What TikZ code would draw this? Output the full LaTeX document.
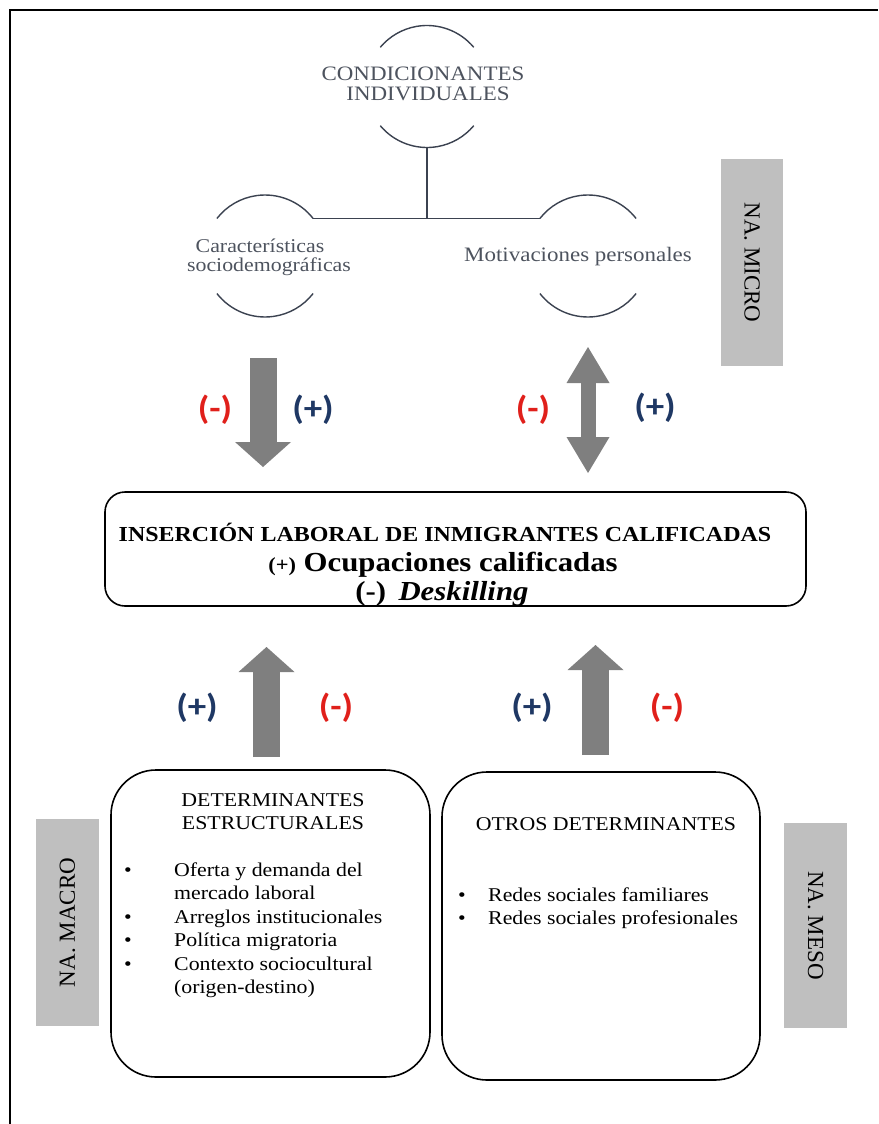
\documentclass[tikz,border=0pt]{standalone}
\usepackage{fontspec}
\setmainfont{Liberation Serif}[FakeStretch=1.12]
\newfontfamily\uprightserif{Liberation Serif}
\newfontfamily\signfont{Carlito}[FakeStretch=1.12]
\usetikzlibrary{arrows.meta,calc}

\definecolor{topgray}{HTML}{4D535E}
\definecolor{arcslate}{HTML}{3B4250}
\definecolor{arrowgray}{HTML}{7F7F7F}
\definecolor{levelgray}{HTML}{BFBFBF}
\definecolor{signred}{HTML}{E0201B}
\definecolor{signnavy}{HTML}{1F3864}

\tikzset{
  ring/.style={circle, minimum size=122pt, inner sep=0pt, outer sep=0pt},
  arcline/.style={draw=arcslate, line width=1.4pt},
  toptext/.style={text=topgray, inner sep=0pt, anchor=base},
  levelbox/.style={fill=levelgray, inner sep=0pt, outer sep=0pt,
    font=\uprightserif\fontsize{23}{26}\selectfont},
  roundbox/.style={draw=black, line width=1.6pt, inner sep=0pt, outer sep=0pt},
  signlabel/.style={inner sep=0pt, font=\signfont\bfseries\fontsize{33}{36}\selectfont},
  plussign/.style={signlabel, text=signnavy},
  minussign/.style={signlabel, text=signred},
  bodytext/.style={anchor=base, inner sep=0pt, font=\fontsize{19.5}{23}\selectfont},
  bulletmark/.style={bodytext},
  bigarrow/.style={draw=arrowgray, line width=27pt,
    -{Triangle[width=56pt, length=25pt, line width=0pt]}},
  dblarrow/.style={draw=arrowgray, line width=15pt,
    {Triangle[width=43pt, length=36pt, line width=0pt]}-{Triangle[width=43pt, length=36pt, line width=0pt]}},
}

\begin{document}
\begin{tikzpicture}[x=1pt, y=-1pt]
  \useasboundingbox (0,0) rectangle (878,1124);

  % page frame: top and left rules
  \draw[line width=2.2pt] (10,1124) -- (10,10) -- (878,10);

  % ---------- individual level ----------
  \node[ring] (cond) at (427,86.5) {};
  \node[ring] (soc)  at (265,256) {};
  \node[ring] (mot)  at (588,256) {};

  \draw[arcline] (cond.40) arc[start angle=40, end angle=140, radius=61pt];
  \draw[arcline] (cond.220) arc[start angle=220, end angle=320, radius=61pt];
  \draw[arcline] (soc.38) arc[start angle=38, end angle=142, radius=61pt];
  \draw[arcline] (soc.218) arc[start angle=218, end angle=322, radius=61pt];
  \draw[arcline] (mot.38) arc[start angle=38, end angle=142, radius=61pt];
  \draw[arcline] (mot.218) arc[start angle=218, end angle=322, radius=61pt];

  \draw[arcline] (cond.south) -- (cond.south |- soc.38);
  \draw[arcline] (soc.38) -- (mot.142);

  \node[toptext, font=\fontsize{20.5}{17}\selectfont] (cond1) at (423,81) {CONDICIONANTES};
  \node[toptext, font=\fontsize{20.5}{17}\selectfont] (cond2) at (428,100) {INDIVIDUALES};
  \node[toptext, font=\fontsize{19.5}{17}\selectfont] (soc1) at (260,252) {Características};
  \node[toptext, font=\fontsize{19.5}{17}\selectfont] (soc2) at (269,271) {sociodemográficas};
  \node[toptext, font=\fontsize{20.5}{17}\selectfont] (mot1) at (578,261) {Motivaciones personales};

  \node[levelbox, rotate=-90, minimum width=207pt, minimum height=62pt] (micro) at (752,262.5) {NA. MICRO};

  % ---------- central outcome ----------
  \node[roundbox, rounded corners=20pt, minimum width=701pt, minimum height=114pt] (ins) at (455.5,549) {};
  \node[anchor=base, inner sep=0pt, font=\bfseries\fontsize{21.4}{24}\selectfont] (ins1) at (445,541)
    {INSERCIÓN LABORAL DE INMIGRANTES CALIFICADAS};
  \node[anchor=base, inner sep=0pt, font=\bfseries\fontsize{27.5}{30}\selectfont] (ins2) at (443,571)
    {{\fontsize{20}{22}\selectfont(+)} Ocupaciones calificadas};
  \node[anchor=base, inner sep=0pt, font=\bfseries\fontsize{27.5}{30}\selectfont] (ins3) at (442,600)
    {(-)\, \textit{Deskilling}};

  % arrows between the individual level and the outcome
  \coordinate (d1) at ([xshift=-2pt]soc.south);
  \draw[bigarrow, shorten <=41pt, shorten >=25pt] (d1) -- (d1 |- ins.north);
  \draw[dblarrow, shorten <=30pt, shorten >=19pt] (mot.south) -- (mot.south |- ins.north);

  \node[minussign] (m1) at (215,410) {(-)};
  \node[plussign]  (p1) at (313,410) {(+)};
  \node[minussign] (m2) at (533,410) {(-)};
  \node[plussign]  (p2) at (655,408) {(+)};

  % ---------- structural and other determinants ----------
  \node[roundbox, rounded corners=45pt, minimum width=319pt, minimum height=307pt] (macro) at (270.5,923.5) {};
  \node[roundbox, rounded corners=45pt, minimum width=318pt, minimum height=308pt] (meso) at (601,926) {};

  \coordinate (u1) at ([xshift=-4pt]macro.north);
  \draw[bigarrow, shorten <=13pt, shorten >=41pt] (u1) -- (u1 |- ins.south);
  \coordinate (u2) at ([xshift=-5.5pt]meso.north);
  \draw[bigarrow, shorten <=17pt, shorten >=39pt] (u2) -- (u2 |- ins.south);

  \node[plussign]  (p3) at (197,708) {(+)};
  \node[minussign] (m3) at (336,708) {(-)};
  \node[plussign]  (p4) at (532,708) {(+)};
  \node[minussign] (m4) at (667,708) {(-)};

  \node[bodytext] (mac1) at (273,806) {DETERMINANTES};
  \node[bodytext] (mac2) at (273,829) {ESTRUCTURALES};
  \node[bulletmark] (mb1) at (128,876) {•};
  \node[bodytext, anchor=base west] (mi1) at (174,876) {Oferta y demanda del};
  \node[bodytext, anchor=base west] (mi1b) at (174,899) {mercado laboral};
  \node[bulletmark] (mb2) at (128,923) {•};
  \node[bodytext, anchor=base west] (mi2) at (174,923) {Arreglos institucionales};
  \node[bulletmark] (mb3) at (128,946) {•};
  \node[bodytext, anchor=base west] (mi3) at (174,946) {Política migratoria};
  \node[bulletmark] (mb4) at (128,970) {•};
  \node[bodytext, anchor=base west] (mi4) at (174,970) {Contexto sociocultural};
  \node[bodytext, anchor=base west] (mi4b) at (174,993) {(origen-destino)};

  \node[bodytext] (mes1) at (606,830) {OTROS DETERMINANTES};
  \node[bulletmark] (sb1) at (462,901) {•};
  \node[bodytext, anchor=base west] (si1) at (488,901) {Redes sociales familiares};
  \node[bulletmark] (sb2) at (462,924) {•};
  \node[bodytext, anchor=base west] (si2) at (488,924) {Redes sociales profesionales};

  \node[levelbox, rotate=90, minimum width=207pt, minimum height=63pt] (macrolvl) at (67.5,922.5) {NA. MACRO};
  \node[levelbox, rotate=-90, minimum width=205pt, minimum height=63pt] (mesolvl) at (815.5,925.5) {NA. MESO};
\end{tikzpicture}
\end{document}
